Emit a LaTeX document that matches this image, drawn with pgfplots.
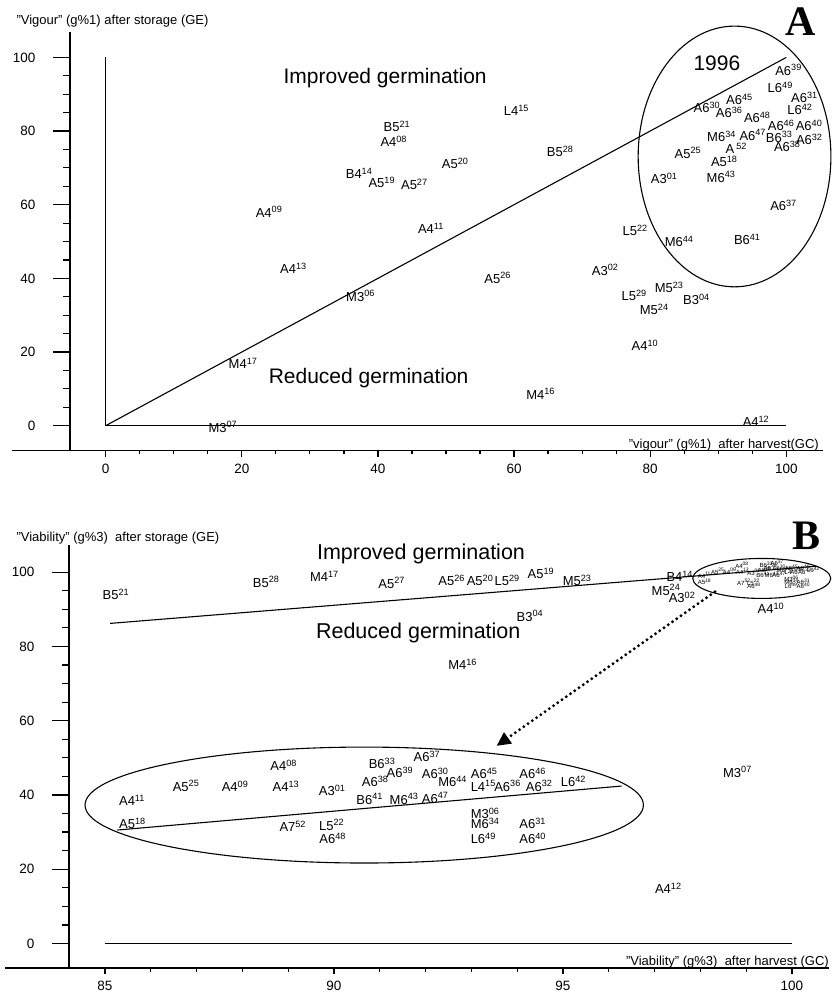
\documentclass[border=0pt]{standalone}
\usepackage{fontspec}
\setmainfont{Liberation Sans}
\newfontfamily\serifbold{Liberation Serif}
\usepackage{pgfplots}
\pgfplotsset{compat=1.18}
\usetikzlibrary{arrows.meta}
\newcommand{\su}[1]{\textsuperscript{#1}}
\newcommand{\lbl}{\fontsize{13}{13}\selectfont}
\pgfplotsset{
  myaxis/.style={
    scale only axis, anchor=south west,
    axis lines=left, axis line style={-, line width=1.2pt},
    tick align=outside,
    major tick length=17pt, minor tick length=7pt,
    x tick style={/pgfplots/major tick length=6pt, /pgfplots/minor tick length=3.5pt},
    tick style={line width=1.2pt, black},
    ticklabel style={font=\fontsize{13.5}{13.5}\selectfont},
    xticklabel style={yshift=7.5pt},
    yticklabel style={xshift=-14pt},
    /pgf/number format/assume math mode=true,
    clip=false,
  },
  lab/.style={only marks, mark=*, mark size=0.01pt, mark options={draw=none, fill=none},
    nodes near coords, point meta=explicit symbolic,
    nodes near coords style={anchor=center, inner sep=0pt, font=\lbl}},
  tiny/.style={only marks, mark=*, mark size=0.01pt, mark options={draw=none, fill=none},
    nodes near coords, point meta=explicit symbolic,
    nodes near coords style={anchor=center, inner sep=0pt, font=\fontsize{6}{6}\selectfont}},
}
\begin{document}
\begin{tikzpicture}
\path[use as bounding box] (0,0) rectangle (831pt,-992pt);
% ---------------- Panel A ----------------
\begin{axis}[myaxis, at={(70pt,-450.7pt)}, width=753pt, height=418.7pt,
  xmin=-5.25, xmax=105.4, ymin=-6.8, ymax=106.9,
  xtick={0,20,...,100}, ytick={0,20,...,100},
  minor xtick={0,5,...,100}, minor ytick={0,5,...,100}]
\draw[line width=1.2pt] (axis cs:-13.77,-6.8) -- (axis cs:-5.25,-6.8);
\draw[line width=1.1pt] (axis cs:0,0) -- (axis cs:0,100);
\draw[line width=1.1pt] (axis cs:0,0) -- (axis cs:100,0);
\draw[line width=1.1pt] (axis cs:0,0) -- (axis cs:100,100);
\draw[line width=1.1pt] (axis cs:92.4,73.1) ellipse [x radius=14.16, y radius=35.4];
\node[font=\fontsize{21}{21}\selectfont] at (axis cs:41.06,94.4) {Improved germination};
\node[font=\fontsize{21}{21}\selectfont] at (axis cs:38.63,12.9) {Reduced germination};
\node[font=\fontsize{21}{21}\selectfont] at (axis cs:89.81,98.4) {1996};
\addplot[lab] coordinates {
(42.78,81.35) [B5\su{21}]
(42.33,77.3) [A4\su{08}]
(37.23,68.5) [B4\su{14}]
(40.57,66.0) [A5\su{19}]
(45.35,65.6) [A5\su{27}]
(24.0,58.1) [A4\su{09}]
(27.58,42.7) [A4\su{13}]
(37.45,35.2) [M3\su{06}]
(20.18,16.9) [M4\su{17}]
(17.21,-0.3) [M3\su{07}]
(51.35,71.2) [A5\su{20}]
(60.36,85.7) [L4\su{15}]
(66.78,74.4) [B5\su{28}]
(47.79,53.6) [A4\su{11}]
(57.59,40.1) [A5\su{26}]
(73.39,42.3) [A3\su{02}]
(77.66,35.3) [L5\su{29}]
(82.80,37.6) [M5\su{23}]
(86.80,34.3) [B3\su{04}]
(80.60,31.6) [M5\su{24}]
(79.23,21.9) [A4\su{10}]
(63.91,8.6) [M4\su{16}]
(95.56,1.1) [A4\su{12}]
(77.80,53.1) [L5\su{22}]
(84.27,50.0) [M6\su{44}]
(94.27,50.6) [B6\su{41}]
(99.60,59.9) [A6\su{37}]
(82.07,67.2) [A3\su{01}]
(90.42,67.6) [M6\su{43}]
(90.89,71.7) [A5\su{18}]
(85.55,74.1) [A5\su{25}]
(92.65,75.3) [A\,\su{52}]
(100.15,75.9) [A6\su{38}]
(103.38,77.7) [A6\su{32}]
(98.97,78.4) [B6\su{33}]
(95.08,78.9) [A6\su{47}]
(90.49,78.6) [M6\su{34}]
(103.35,81.6) [A6\su{40}]
(99.24,81.6) [A6\su{46}]
(95.74,83.7) [A6\su{48}]
(102.01,85.9) [L6\su{42}]
(91.62,85.0) [A6\su{36}]
(93.12,88.6) [A6\su{45}]
(88.34,86.4) [A6\su{30}]
(102.68,89.1) [A6\su{31}]
(99.12,91.9) [L6\su{49}]
(100.34,96.6) [A6\su{39}]
};
\end{axis}
\node[anchor=west, font=\fontsize{13}{13}\selectfont] at (13pt,-21pt) {"Vigour" (g\%1) after storage (GE)};
\node[anchor=base east, font=\fontsize{13}{13}\selectfont, inner sep=0pt] at (819pt,-448.5pt) {"vigour" (g\%1)\ \ after harvest(GC)};
\node[font=\fontsize{42}{42}\bfseries\serifbold] at (801pt,-22pt) {A};
% ---------------- Panel B ----------------
\begin{axis}[myaxis, at={(69pt,-968pt)}, width=759.6pt, height=423pt,
  xmin=84.214, xmax=100.8, ymin=-6.6, ymax=107.3,
  xtick={85,90,95,100}, ytick={0,20,...,100},
  minor xtick={85,86,...,100}, minor ytick={0,5,...,100}]
\draw[line width=1.2pt] (axis cs:82.82,-6.6) -- (axis cs:84.214,-6.6);
\draw[line width=1.1pt] (axis cs:85,0) -- (axis cs:100,0);
\draw[line width=1.1pt] (axis cs:85.11,86.19) -- (axis cs:100.54,101.6);
\draw[line width=1.1pt] (axis cs:99.34,98.3) ellipse [x radius=1.507, y radius=5.38];
\draw[line width=1.1pt] (axis cs:90.66,37.28) ellipse [x radius=6.096, y radius=15.61];
\draw[line width=1.1pt] (axis cs:85.27,30.55) -- (axis cs:96.28,42.4);
\draw[line width=3.2pt, line cap=round, dash pattern=on 0pt off 5.2pt, -{Triangle[length=14pt,width=13pt,line cap=butt]}] (axis cs:98.32,94.7) -- (axis cs:93.55,53.2);
\node[font=\fontsize{21.5}{21.5}\selectfont] at (axis cs:91.9,105.0) {Improved germination};
\node[font=\fontsize{21.5}{21.5}\selectfont] at (axis cs:91.84,83.7) {Reduced germination};
\addplot[lab] coordinates {
(85.24,94.0) [B5\su{21}]
(88.52,97.4) [B5\su{28}]
(89.79,98.9) [M4\su{17}]
(91.26,97.1) [A5\su{27}]
(92.57,97.7) [A5\su{26}]
(93.19,97.7) [A5\su{20}]
(93.78,97.8) [L5\su{29}]
(94.52,99.7) [A5\su{19}]
(95.31,97.8) [M5\su{23}]
(94.28,88.2) [B3\su{04}]
(97.55,98.9) [B4\su{14}]
(97.25,95.2) [M5\su{24}]
(97.60,93.2) [A3\su{02}]
(99.54,90.2) [A4\su{10}]
(92.81,75.2) [M4\su{16}]
(98.81,46.2) [M3\su{07}]
(97.30,14.86) [A4\su{12}]
};
\addplot[lab] coordinates {
(85.59,38.6) [A4\su{11}]
(85.60,32.4) [A5\su{18}]
(86.77,42.4) [A5\su{25}]
(87.84,42.4) [A4\su{09}]
(88.90,48.0) [A4\su{08}]
(88.95,42.4) [A4\su{13}]
(89.96,41.3) [A3\su{01}]
(89.10,31.6) [A7\su{52}]
(89.95,31.9) [L5\su{22}]
(89.97,28.3) [A6\su{48}]
(91.05,48.5) [B6\su{33}]
(90.90,43.6) [A6\su{38}]
(91.44,46.0) [A6\su{39}]
(90.78,38.9) [B6\su{41}]
(91.53,38.9) [M6\su{43}]
(92.03,50.3) [A6\su{37}]
(92.21,45.8) [A6\su{30}]
(92.59,43.6) [M6\su{44}]
(93.28,45.8) [A6\su{45}]
(93.26,42.4) [L4\su{15}]
(93.79,42.4) [A6\su{36}]
(94.34,45.8) [A6\su{46}]
(94.48,42.4) [A6\su{32}]
(95.23,43.6) [L6\su{42}]
(92.21,39.2) [A6\su{47}]
(93.30,35.0) [M3\su{06}]
(93.30,32.4) [M6\su{34}]
(93.26,28.3) [L6\su{49}]
(94.34,32.4) [A6\su{31}]
(94.34,28.3) [A6\su{40}]
};
\addplot[tiny] coordinates {
(98.09,99.17) [A4\su{11}]
(98.09,97.43) [A5\su{18}]
(98.38,100.23) [A5\su{25}]
(98.64,100.23) [A4\su{09}]
(98.91,101.80) [A4\su{08}]
(98.92,100.23) [A4\su{13}]
(99.17,99.93) [A3\su{01}]
(98.95,97.21) [A7\su{52}]
(99.16,97.29) [L5\su{22}]
(99.17,96.29) [A6\su{48}]
(99.44,101.94) [B6\su{33}]
(99.40,100.57) [A6\su{38}]
(99.53,101.24) [A6\su{39}]
(99.37,99.25) [B6\su{41}]
(99.56,99.25) [M6\su{43}]
(99.68,102.45) [A6\su{37}]
(99.72,101.19) [A6\su{30}]
(99.82,100.57) [M6\su{44}]
(99.99,101.19) [A6\su{45}]
(99.98,100.23) [L4\su{15}]
(100.11,100.23) [A6\su{36}]
(100.25,101.19) [A6\su{46}]
(100.28,100.23) [A6\su{32}]
(100.47,100.57) [L6\su{42}]
(99.72,99.34) [A6\su{47}]
(99.99,98.16) [M3\su{06}]
(99.99,97.43) [M6\su{34}]
(99.98,96.29) [L6\su{49}]
(100.25,97.43) [A6\su{31}]
(100.25,96.29) [A6\su{40}]
};
\end{axis}
\node[anchor=west, font=\fontsize{13}{13}\selectfont] at (13pt,-537.7pt) {"Viability" (g\%3)\ \ after storage (GE)};
\node[anchor=base east, font=\fontsize{13}{13}\selectfont, inner sep=0pt] at (829pt,-965.5pt) {"Viability" (g\%3)\ \ after harvest (GC)};
\node[font=\fontsize{42}{42}\bfseries\serifbold] at (806.5pt,-536pt) {B};
\end{tikzpicture}
\end{document}
